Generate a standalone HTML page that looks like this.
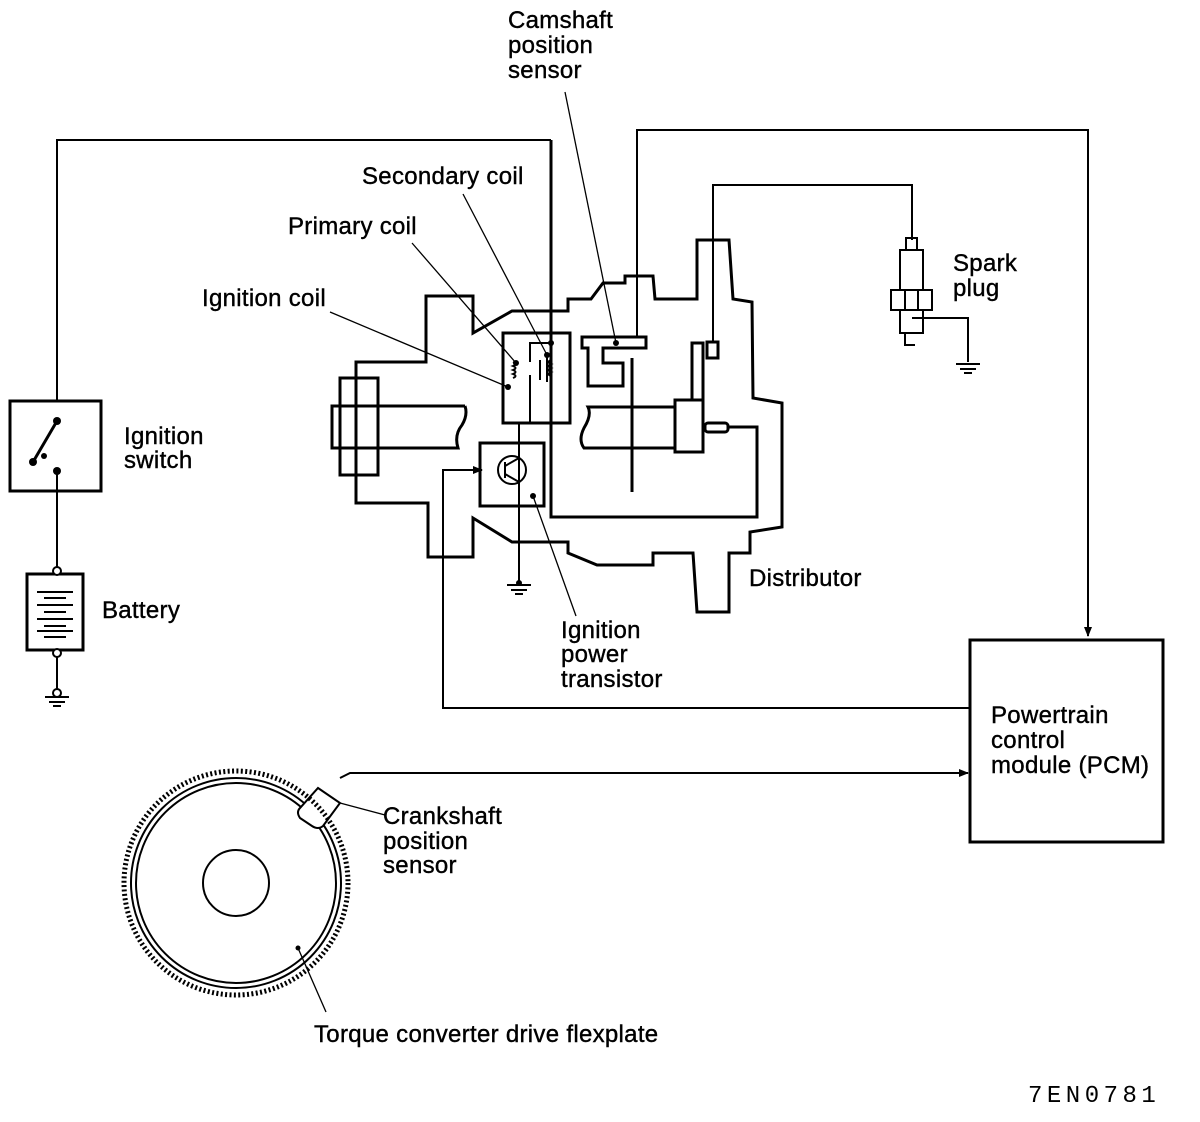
<!DOCTYPE html>
<html><head><meta charset="utf-8"><style>
html,body{margin:0;padding:0;background:#fff}
svg{display:block}
text{font-family:"Liberation Sans",Arial,sans-serif;font-size:24px;letter-spacing:0.3px;fill:#000;stroke:#000;stroke-width:0.4}
</style></head><body>
<svg width="1200" height="1122" viewBox="0 0 1200 1122" xmlns="http://www.w3.org/2000/svg">
<defs>
<marker id="ar" markerWidth="10" markerHeight="8" refX="9" refY="4" orient="auto" markerUnits="userSpaceOnUse"><path d="M0,0 L10,4 L0,8 Z" fill="#000"/></marker>
</defs>
<g fill="none" stroke="#000" stroke-width="3">
<path d="M356,362 L426,362 L426,296 L473,296 L473,333 L512,311 L568,311 L568,299 L591,299 L603,283 L625,283 L625,276 L653,276 L655,299 L697,299 L697,240 L729,240 L733,299 L752,302 L753,398 L782,403 L782,527 L750,532 L750,553 L729,553 L729,612 L697,612 L693,553 L653,553 L653,565 L597,565 L568,553 L568,542 L512,542 L473,518 L473,557 L428,557 L428,503 L356,503 Z"/>
<rect x="340" y="378" width="38" height="97"/>
<path d="M465,406 L332,406 L332,448 L458,448 Q454,435 462,425 Q468,415 465,406"/>
<path d="M675,407 L588,407 Q592,415 584,428 Q578,440 584,448 L675,448"/>
<rect x="675" y="400" width="28" height="52"/>
<path d="M692,400 L692,343 L703,343 L703,400"/>
<rect x="705" y="423" width="23" height="9" rx="3"/>
<rect x="707" y="342" width="11" height="16"/>
<path d="M551,140 L551,517 L757,517 L757,427 L728,427"/>
<path d="M582,337 L646,337 L646,348 L603,348 L603,363 L623,363 L623,386 L588,386 L588,348 L582,348 Z"/>
<line x1="632" y1="358" x2="632" y2="492"/>
<rect x="503" y="333" width="67" height="90"/>
<rect x="480" y="443" width="64" height="63"/>
<rect x="10" y="401" width="91" height="90"/>
<rect x="27" y="574" width="56" height="76"/>
<rect x="970" y="640" width="193" height="202"/>
</g>
<g fill="none" stroke="#000" stroke-width="2">
<path d="M57,401 L57,140 L551,140"/>
<line x1="57" y1="471" x2="57" y2="568"/>
<line x1="57" y1="656" x2="57" y2="690"/>
<path d="M637,337 L637,130 L1088,130 L1088,636" marker-end="url(#ar)"/>
<path d="M713,342 L713,185 L912,185 L912,240"/>
<path d="M970,708 L443,708 L443,470 L482,470" marker-end="url(#ar)"/>
<path d="M340,778 L350,773 L968,773" marker-end="url(#ar)"/>
<path d="M551,343 L530,343 L530,362"/>
<path d="M530,375 L530,423"/>
<path d="M519,423 L519,506"/>
<line x1="540" y1="360" x2="540" y2="380"/>
<line x1="547" y1="356" x2="547" y2="382"/>
<path d="M513,362 q5,2 0,4 q5,2 0,4 q5,2 0,4 q5,2 0,4"/>
<path d="M551,360 q-5,2 0,4 q-5,2 0,4 q-5,2 0,4 q-5,2 0,4"/>
<circle cx="512" cy="470" r="14"/>
<line x1="505" y1="462" x2="505" y2="478"/>
<line x1="505" y1="466" x2="519" y2="458"/>
<line x1="505" y1="474" x2="519" y2="482"/>
<line x1="519" y1="458" x2="519" y2="423"/>
<line x1="519" y1="482" x2="519" y2="583"/>
<line x1="507" y1="585" x2="531" y2="585"/><line x1="511" y1="590" x2="527" y2="590"/><line x1="515" y1="594" x2="523" y2="594"/>
<line x1="45" y1="697" x2="69" y2="697"/><line x1="49" y1="702" x2="65" y2="702"/><line x1="53" y1="706" x2="61" y2="706"/>
<path d="M912,318 L968,318 L968,362"/>
<line x1="956" y1="364" x2="980" y2="364"/><line x1="960" y1="369" x2="976" y2="369"/><line x1="964" y1="373" x2="972" y2="373"/>
<line x1="57" y1="421" x2="33" y2="462" stroke-width="3"/>
<rect x="906" y="238" width="11" height="12"/>
<rect x="900" y="250" width="23" height="40"/>
<rect x="891" y="290" width="41" height="20"/>
<line x1="905" y1="290" x2="905" y2="310"/><line x1="918" y1="290" x2="918" y2="310"/>
<rect x="900" y="310" width="23" height="23"/>
<path d="M905,333 L905,345 L915,345"/>
<line x1="37" y1="592" x2="73" y2="592"/><line x1="44" y1="598" x2="66" y2="598"/>
<line x1="37" y1="605" x2="73" y2="605"/><line x1="44" y1="612" x2="66" y2="612"/>
<line x1="37" y1="619" x2="73" y2="619"/><line x1="44" y1="626" x2="66" y2="626"/>
<line x1="37" y1="631" x2="73" y2="631"/><line x1="44" y1="637" x2="66" y2="637"/>
<circle cx="236" cy="883" r="105"/>
<circle cx="236" cy="883" r="100"/>
<circle cx="236" cy="883" r="33"/>
<path d="M318,788 L340,803 L323,826 Q318,830 312,826 L300,818 Q296,812 300,808 Z" fill="#fff"/>
<g stroke-width="1.3">
<line x1="565" y1="92" x2="616" y2="343"/>
<line x1="463" y1="194" x2="547" y2="355"/>
<line x1="412" y1="243" x2="516" y2="363"/>
<line x1="330" y1="312" x2="508" y2="387"/>
<line x1="533" y1="496" x2="576" y2="616"/>
<line x1="340" y1="803" x2="385" y2="815"/>
<line x1="298" y1="948" x2="326" y2="1012"/>
</g>
</g>
<circle cx="236" cy="883" r="112" fill="none" stroke="#000" stroke-width="5" stroke-dasharray="2 2.4"/>
<g fill="#000">
<circle cx="57" cy="421" r="4"/><circle cx="33" cy="462" r="4"/><circle cx="44" cy="456" r="3"/><circle cx="57" cy="471" r="4"/>
<circle cx="551" cy="343" r="3"/><circle cx="547" cy="355" r="3"/><circle cx="516" cy="363" r="3"/><circle cx="508" cy="387" r="3"/>
<circle cx="616" cy="343" r="3"/><circle cx="533" cy="496" r="3"/><circle cx="519" cy="583" r="3"/><circle cx="298" cy="948" r="2.5"/>
</g>
<circle cx="57" cy="571" r="4" fill="#fff" stroke="#000" stroke-width="2"/>
<circle cx="57" cy="653" r="4" fill="#fff" stroke="#000" stroke-width="2"/>
<circle cx="57" cy="693" r="4" fill="#fff" stroke="#000" stroke-width="2"/>
<text x="508" y="28">Camshaft</text>
<text x="508" y="53">position</text>
<text x="508" y="78">sensor</text>
<text x="362" y="184">Secondary coil</text>
<text x="288" y="234">Primary coil</text>
<text x="202" y="306">Ignition coil</text>
<text x="953" y="271">Spark</text>
<text x="953" y="296">plug</text>
<text x="124" y="444">Ignition</text>
<text x="124" y="468">switch</text>
<text x="102" y="618">Battery</text>
<text x="749" y="586">Distributor</text>
<text x="561" y="638">Ignition</text>
<text x="561" y="662">power</text>
<text x="561" y="687">transistor</text>
<text x="991" y="723">Powertrain</text>
<text x="991" y="748">control</text>
<text x="991" y="773">module (PCM)</text>
<text x="383" y="824">Crankshaft</text>
<text x="383" y="849">position</text>
<text x="383" y="873">sensor</text>
<text x="314" y="1042">Torque converter drive flexplate</text>
<text x="1028" y="1102" style="font-family:'Liberation Mono',monospace;font-size:24px;letter-spacing:4.5px;stroke-width:0">7EN0781</text>
</svg>
</body></html>
